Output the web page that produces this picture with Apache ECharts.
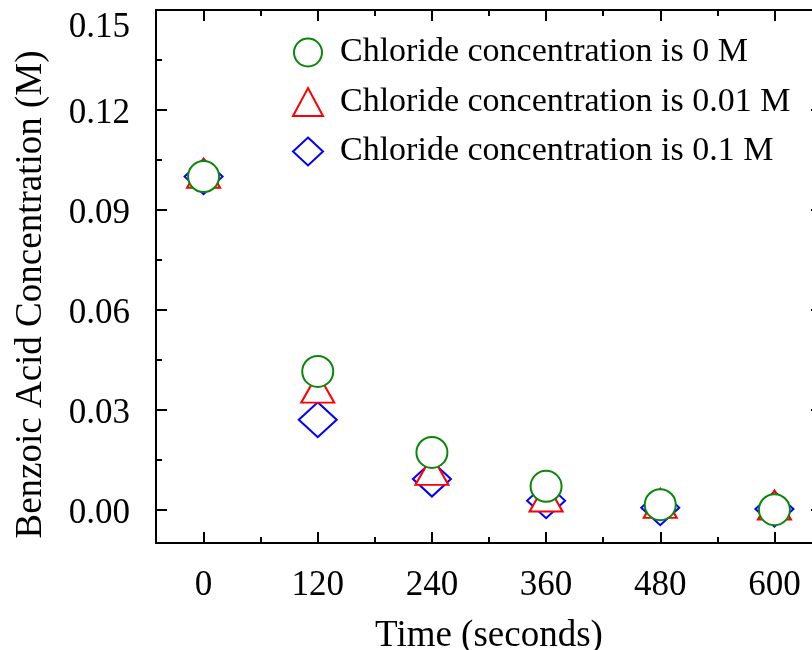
<!DOCTYPE html>
<html>
<head>
<meta charset="utf-8">
<script src="https://cdn.jsdelivr.net/npm/echarts@6/dist/echarts.min.js"></script>
<style>html,body{margin:0;padding:0;background:#fff}#c{width:812px;height:650px}</style>
</head>
<body>
<div id="c"></div>
<script>
// Data
var times = [0, 120, 240, 360, 480, 600];
var conc0 = [0.1000, 0.0415, 0.0172, 0.0070, 0.0015, 0.0000];
var conc001 = [0.1010, 0.0365, 0.0118, 0.0038, 0.0019, 0.0014];
var conc01 = [0.1000, 0.0270, 0.0092, 0.0027, 0.0006, 0.0002];
var seriesNames = ['Chloride concentration is 0 M', 'Chloride concentration is 0.01 M', 'Chloride concentration is 0.1 M'];
var xMajor = [0, 120, 240, 360, 480, 600];
var xMinor = [60, 180, 300, 420, 540];
var yMajor = [0, 0.03, 0.06, 0.09, 0.12, 0.15];
var yMinor = [0.015, 0.045, 0.075, 0.105, 0.135];

var FONT = 'Liberation Serif';
function pairs(ys) { return times.map(function (t, i) { return [t, ys[i]]; }); }

var lineStyle = { color: '#000', width: 2 };
function xAx(pos, vals, len, showLine, showLabel, extra) {
  var a = {
    type: 'value', position: pos, min: -50, max: 650,
    axisLine: { show: showLine, onZero: false, lineStyle: lineStyle },
    axisTick: { show: true, inside: true, length: len, customValues: vals, lineStyle: { color: '#000', width: 2 } },
    axisLabel: { show: showLabel, customValues: vals, fontFamily: FONT, fontSize: 35, color: '#000', margin: 25 },
    splitLine: { show: false }
  };
  return Object.assign(a, extra || {});
}
function yAx(pos, vals, len, showLine, showLabel, extra) {
  var a = {
    type: 'value', position: pos, min: -0.01, max: 0.15,
    axisLine: { show: showLine, onZero: false, lineStyle: lineStyle },
    axisTick: { show: true, inside: true, length: len, customValues: vals, lineStyle: { color: '#000', width: 2 } },
    axisLabel: { show: showLabel, customValues: vals, fontFamily: FONT, fontSize: 35, color: '#000', margin: 26,
      formatter: function (v) {
        var s = v.toFixed(2);
        return v >= 0.149 ? '{t|' + s + '}' : '{n|' + s + '}';
      },
      rich: {
        n: { fontFamily: FONT, fontSize: 35, color: '#000', padding: [8, 0, 0, 0] },
        t: { fontFamily: FONT, fontSize: 35, color: '#000', padding: [36, 0, 0, 0] }
      } },
    splitLine: { show: false }
  };
  return Object.assign(a, extra || {});
}

var chart = echarts.init(document.getElementById('c'));
chart.setOption({
  animation: false,
  backgroundColor: '#fff',
  grid: { left: 156, top: 10, width: 666, height: 533, containLabel: false, outerBoundsMode: 'none' },
  xAxis: [
    xAx('bottom', xMajor, 11, true, true, {
      name: 'Time (seconds)', nameLocation: 'middle', nameGap: 75,
      nameTextStyle: { fontFamily: FONT, fontSize: 37, color: '#000' }
    }),
    xAx('bottom', xMinor, 6, false, false),
    xAx('top', xMajor, 11, true, false),
    xAx('top', xMinor, 6, false, false)
  ],
  yAxis: [
    yAx('left', yMajor, 11, true, true, {
      name: 'Benzoic Acid Concentration (M)', nameLocation: 'middle', nameGap: 106,
      nameTextStyle: { fontFamily: FONT, fontSize: 37, color: '#000', padding: [0, 36, 0, 0] }
    }),
    yAx('left', yMinor, 6, false, false),
    yAx('right', yMajor, 11, true, false),
    yAx('right', yMinor, 6, false, false)
  ],
  legend: {
    orient: 'vertical', left: 287, top: 30.5, itemGap: 15.5, itemWidth: 30, itemHeight: 28,
    data: seriesNames,
    textStyle: { fontFamily: FONT, fontSize: 34, color: '#000', lineHeight: 34, padding: [0, 0, 0, 12] },
    selectedMode: false
  },
  series: [
    { name: seriesNames[2], type: 'scatter', symbol: 'diamond', symbolSize: [38, 35], data: pairs(conc01),
      itemStyle: { color: '#fff', borderColor: '#0000ff', borderWidth: 2, opacity: 1 }, z: 2 },
    { name: seriesNames[1], type: 'scatter', symbol: 'triangle', symbolSize: [33, 29], data: pairs(conc001),
      itemStyle: { color: '#fff', borderColor: '#ff0000', borderWidth: 2, opacity: 1 }, z: 3 },
    { name: seriesNames[0], type: 'scatter', symbol: 'circle', symbolSize: 31, data: pairs(conc0),
      itemStyle: { color: '#fff', borderColor: '#0a870a', borderWidth: 2, opacity: 1 }, z: 4 }
  ]
});
</script>
</body>
</html>
